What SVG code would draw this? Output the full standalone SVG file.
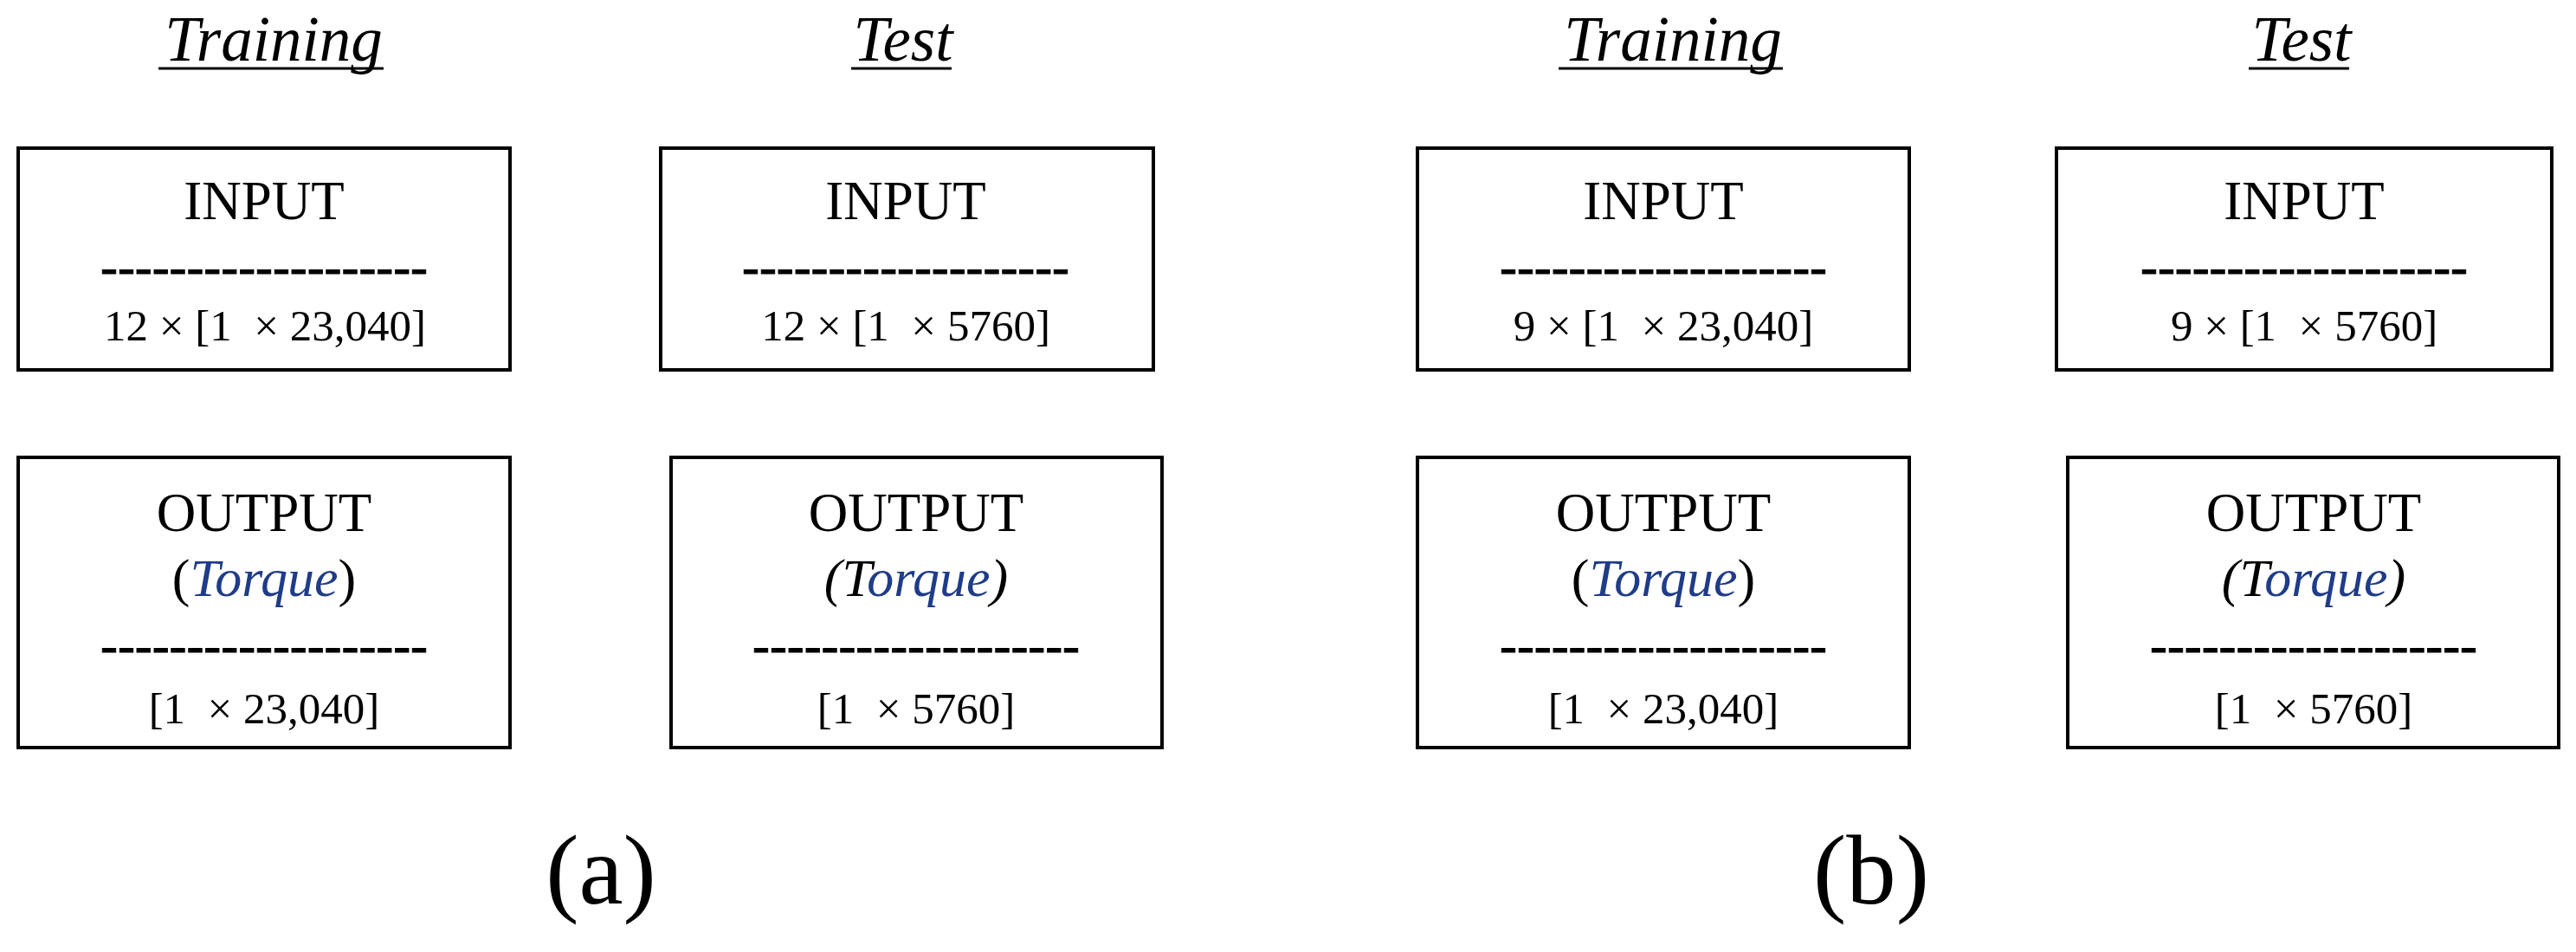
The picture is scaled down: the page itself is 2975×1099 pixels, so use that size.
<svg xmlns="http://www.w3.org/2000/svg" width="2975" height="1099" viewBox="0 0 2975 1099">
<style>
  text { font-family: "Liberation Serif", "Times New Roman", serif; fill: #000; text-anchor: middle; white-space: pre; }
  .hdr { font-size: 73px; font-style: italic; }
  .ul { stroke: #000; stroke-width: 3; }
  .box { fill: #fff; stroke: #000; stroke-width: 4; }
  .title { font-size: 63px; }
  .dash { font-size: 60px; stroke: #000; stroke-width: 0.9; }
  .dim { font-size: 51px; }
  .tq { font-size: 62px; }
  .it { font-style: italic; }
  .blue { fill: #1F3C88; font-style: italic; }
  .lbl { font-size: 115px; }
</style>

<g id="headers">
  <text class="hdr" x="316" y="70">Training</text>
  <line class="ul" x1="183" y1="79" x2="443" y2="79"/>
  <text class="hdr" x="1043" y="70">Test</text>
  <line class="ul" x1="983" y1="79" x2="1099" y2="79"/>
  <text class="hdr" x="1932" y="70">Training</text>
  <line class="ul" x1="1800" y1="79" x2="2059" y2="79"/>
  <text class="hdr" x="2658" y="70">Test</text>
  <line class="ul" x1="2597" y1="79" x2="2713" y2="79"/>
</g>

<g id="a-train-input">
  <rect class="box" x="21" y="171" width="568" height="256"/>
  <text class="title" x="305" y="253">INPUT</text>
  <text class="dash" x="305" y="328" textLength="378" lengthAdjust="spacingAndGlyphs">-------------------</text>
  <text class="dim" x="306" y="393">12 × [1  × 23,040]</text>
</g>

<g id="a-test-input">
  <rect class="box" x="763" y="171" width="569" height="256"/>
  <text class="title" x="1046" y="253">INPUT</text>
  <text class="dash" x="1046" y="328" textLength="378" lengthAdjust="spacingAndGlyphs">-------------------</text>
  <text class="dim" x="1046" y="393">12 × [1  × 5760]</text>
</g>

<g id="a-train-output">
  <rect class="box" x="21" y="528" width="568" height="335"/>
  <text class="title" x="305" y="613">OUTPUT</text>
  <text class="tq" x="305" y="688">(<tspan class="blue">Torque</tspan>)</text>
  <text class="dash" x="305" y="765" textLength="378" lengthAdjust="spacingAndGlyphs">-------------------</text>
  <text class="dim" x="305" y="835">[1  × 23,040]</text>
</g>

<g id="a-test-output">
  <rect class="box" x="775" y="528" width="567" height="335"/>
  <text class="title" x="1058" y="613">OUTPUT</text>
  <text class="tq" x="1058" y="688"><tspan class="it">(T</tspan><tspan class="blue">orque</tspan><tspan class="it">)</tspan></text>
  <text class="dash" x="1058" y="765" textLength="378" lengthAdjust="spacingAndGlyphs">-------------------</text>
  <text class="dim" x="1058" y="835">[1  × 5760]</text>
</g>

<g id="b-train-input">
  <rect class="box" x="1637" y="171" width="568" height="256"/>
  <text class="title" x="1921" y="253">INPUT</text>
  <text class="dash" x="1921" y="328" textLength="378" lengthAdjust="spacingAndGlyphs">-------------------</text>
  <text class="dim" x="1921" y="393">9 × [1  × 23,040]</text>
</g>

<g id="b-test-input">
  <rect class="box" x="2375" y="171" width="572" height="256"/>
  <text class="title" x="2661" y="253">INPUT</text>
  <text class="dash" x="2661" y="328" textLength="378" lengthAdjust="spacingAndGlyphs">-------------------</text>
  <text class="dim" x="2661" y="393">9 × [1  × 5760]</text>
</g>

<g id="b-train-output">
  <rect class="box" x="1637" y="528" width="568" height="335"/>
  <text class="title" x="1921" y="613">OUTPUT</text>
  <text class="tq" x="1921" y="688">(<tspan class="blue">Torque</tspan>)</text>
  <text class="dash" x="1921" y="765" textLength="378" lengthAdjust="spacingAndGlyphs">-------------------</text>
  <text class="dim" x="1921" y="835">[1  × 23,040]</text>
</g>

<g id="b-test-output">
  <rect class="box" x="2388" y="528" width="567" height="335"/>
  <text class="title" x="2672" y="613">OUTPUT</text>
  <text class="tq" x="2672" y="688"><tspan class="it">(T</tspan><tspan class="blue">orque</tspan><tspan class="it">)</tspan></text>
  <text class="dash" x="2672" y="765" textLength="378" lengthAdjust="spacingAndGlyphs">-------------------</text>
  <text class="dim" x="2672" y="835">[1  × 5760]</text>
</g>

<g id="labels">
  <text class="lbl" x="694" y="1043">(a)</text>
  <text class="lbl" x="2161" y="1043">(b)</text>
</g>

<g id="connectors"></g>
</svg>
